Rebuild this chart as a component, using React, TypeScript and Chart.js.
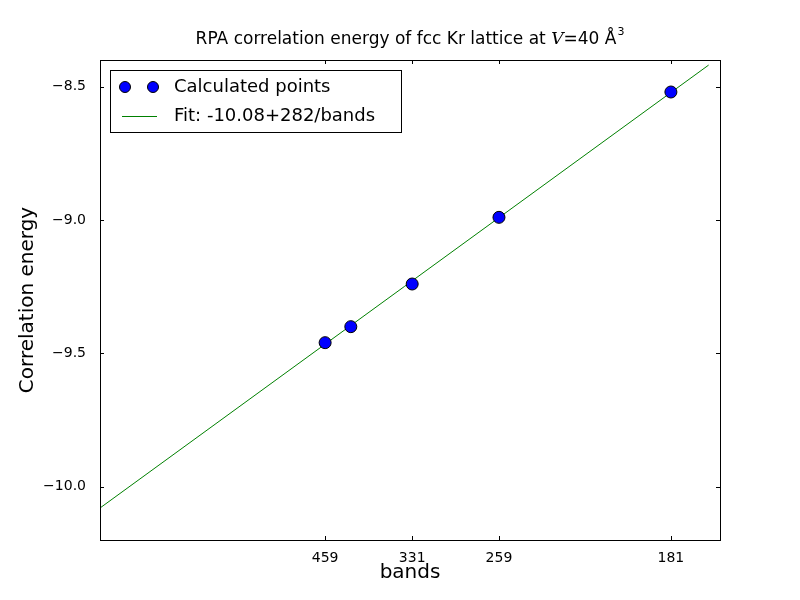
import React, { useEffect, useRef } from "react";
import { Chart, registerables } from "chart.js";
Chart.register(...registerables);

const bands = [181, 259, 331, 412, 459];
const energies = [-8.52, -8.99, -9.24, -9.40, -9.46];
const tickBands = [459, 331, 259, 181];
const yTicks = [-10.0, -9.5, -9.0, -8.5];
const fitA = -10.08;
const fitB = 282;
const fitX = [0, 0.00589];

const boxPlugin = {
  id: "box",
  afterDraw(chart: any) {
    const { ctx, chartArea: a, scales } = chart;
    ctx.save();
    ctx.strokeStyle = "#000";
    ctx.lineWidth = 1;
    ctx.strokeRect(a.left + 0.5, a.top + 0.5, a.right - a.left, a.bottom - a.top);
    ctx.beginPath();
    for (const b of tickBands) {
      const x = Math.round(scales.x.getPixelForValue(1 / b)) + 0.5;
      ctx.moveTo(x, a.bottom); ctx.lineTo(x, a.bottom - 4);
      ctx.moveTo(x, a.top); ctx.lineTo(x, a.top + 4);
    }
    for (const v of yTicks) {
      const y = Math.round(scales.y.getPixelForValue(v)) + 0.5;
      ctx.moveTo(a.left, y); ctx.lineTo(a.left + 4, y);
      ctx.moveTo(a.right, y); ctx.lineTo(a.right - 4, y);
    }
    ctx.stroke();
    // legend
    const bx = 110, by = 70, bw = 291, bh = 62;
    ctx.fillStyle = "#fff";
    ctx.fillRect(bx, by, bw, bh);
    ctx.strokeRect(bx + 0.5, by + 0.5, bw, bh);
    ctx.fillStyle = "#0000ff";
    for (const cx of [125, 153]) {
      ctx.beginPath(); ctx.arc(cx, 87, 5.5, 0, Math.PI * 2); ctx.fill(); ctx.stroke();
    }
    ctx.strokeStyle = "#008000";
    ctx.beginPath(); ctx.moveTo(122, 116.5); ctx.lineTo(157, 116.5); ctx.stroke();
    ctx.fillStyle = "#000";
    ctx.font = "18px 'DejaVu Sans'";
    ctx.textBaseline = "middle";
    ctx.fillText("Calculated points", 174, 87);
    ctx.fillText("Fit: -10.08+282/bands", 174, 116);
    // axis titles
    ctx.textAlign = "center";
    ctx.font = "20px 'DejaVu Sans'";
    ctx.fillText("bands", (a.left + a.right) / 2, 573);
    ctx.save();
    ctx.translate(28, (a.top + a.bottom) / 2);
    ctx.rotate(-Math.PI / 2);
    ctx.fillText("Correlation energy", 0, 0);
    ctx.restore();
    // title
    ctx.font = "17px 'DejaVu Sans'";
    const t1 = "RPA correlation energy of fcc Kr lattice at ";
    ctx.textAlign = "left";
    const w1 = ctx.measureText(t1).width;
    ctx.font = "italic 17px 'DejaVu Serif'";
    const w2 = ctx.measureText("V").width;
    ctx.font = "17px 'DejaVu Sans'";
    const t3 = "=40 Å";
    const w3 = ctx.measureText(t3).width;
    let x = 410 - (w1 + w2 + w3 + 8) / 2;
    ctx.fillText(t1, x, 40); x += w1;
    ctx.font = "italic 17px 'DejaVu Serif'";
    ctx.fillText("V", x, 40); x += w2;
    ctx.font = "17px 'DejaVu Sans'";
    ctx.fillText(t3, x, 40); x += w3;
    ctx.font = "11px 'DejaVu Sans'";
    ctx.fillText("3", x + 1, 32);
    ctx.restore();
  },
};

export default function App() {
  const ref = useRef<HTMLCanvasElement>(null);
  useEffect(() => {
    document.body.style.margin = "0";
    const chart = new Chart(ref.current!, {
      type: "scatter",
      data: {
        datasets: [
          {
            data: bands.map((b, i) => ({ x: 1 / b, y: energies[i] })),
            backgroundColor: "#0000ff",
            borderColor: "#000",
            borderWidth: 1,
            pointRadius: 6,
          },
          {
            type: "line",
            data: fitX.map((x) => ({ x, y: fitA + fitB * x })),
            borderColor: "#008000",
            borderWidth: 1,
            pointRadius: 0,
          } as any,
        ],
      },
      options: {
        animation: false,
        responsive: false,
        layout: { padding: { right: 80, top: 60, left: 0, bottom: 0 } },
        plugins: {
          legend: { display: false },
          tooltip: { enabled: false },
          title: { display: false },
        },
        scales: {
          x: {
            type: "linear",
            min: 0,
            max: 0.006,
            afterFit: (s: any) => { s.height = 60; },
            afterBuildTicks: (s: any) => { s.ticks = tickBands.map((b) => ({ value: 1 / b })); },
            ticks: {
              color: "#000",
              font: { family: "DejaVu Sans", size: 14 },
              callback: (v: any) => String(Math.round(1 / Number(v))),
              maxRotation: 0,
              autoSkip: false,
              padding: 2,
            },
            grid: { display: false },
            border: { display: false },
          },
          y: {
            min: -10.2,
            max: -8.4,
            afterFit: (s: any) => { s.width = 100; },
            afterBuildTicks: (s: any) => { s.ticks = yTicks.map((v) => ({ value: v })); },
            ticks: {
              color: "#000",
              font: { family: "DejaVu Sans", size: 14 },
              callback: (v: any) => Number(v).toFixed(1).replace("-", "\u2212"),
              padding: 6,
            },
            grid: { display: false },
            border: { display: false },
          },
        },
      },
      plugins: [boxPlugin],
    });
    return () => chart.destroy();
  }, []);
  return <canvas ref={ref} width={800} height={600} style={{ display: "block" }} />;
}
